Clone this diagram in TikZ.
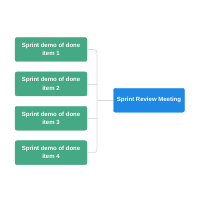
\documentclass[tikz,border=0pt]{standalone}
\usepackage{fontspec}
\setmainfont{Liberation Sans}
\usepackage{xcolor}
\usepackage{tikz}
\usetikzlibrary{positioning, calc}
\definecolor{itemgreen}{HTML}{46A985}
\definecolor{meetblue}{HTML}{1E88E5}
\definecolor{linkgray}{HTML}{DADADA}

\begin{document}
\begin{tikzpicture}[
  demo/.style={rectangle, rounded corners=2pt, draw=itemgreen, fill=itemgreen, text=white, minimum width=72pt, minimum height=24pt, inner sep=1pt, align=center, font=\bfseries\fontsize{6}{8.2}\selectfont},
  meet/.style={rectangle, rounded corners=2pt, draw=meetblue, fill=meetblue, text=white, minimum width=71pt, minimum height=24pt, inner sep=1pt, align=center, font=\bfseries\fontsize{6}{8.2}\selectfont},
  link/.style={draw=linkgray, line width=0.7pt},
  node distance=10pt and 26pt
]
  \useasboundingbox (0,0) rectangle (200pt,200pt);

  \node[demo] at (51pt,150.5pt) (item1) {Sprint demo of done\\item 1};
  \node[demo, below=of item1] (item2) {Sprint demo of done\\item 2};
  \node[demo, below=of item2] (item3) {Sprint demo of done\\item 3};
  \node[demo, below=of item3] (item4) {Sprint demo of done\\item 4};

  \node[meet, anchor=west] at (113.3pt,99.7pt) (meeting) {Sprint Review Meeting};

  \coordinate (bus) at ([xshift=9.7pt]item1.east);

  \draw[link, rounded corners=3pt] (item1.east) -| (bus |- item4.east) -- (item4.east);
  \draw[link] (item2.east) -- (bus |- item2.east);
  \draw[link] (item3.east) -- (bus |- item3.east);
  \draw[link] (bus |- meeting.west) -- (meeting.west);
\end{tikzpicture}
\end{document}
